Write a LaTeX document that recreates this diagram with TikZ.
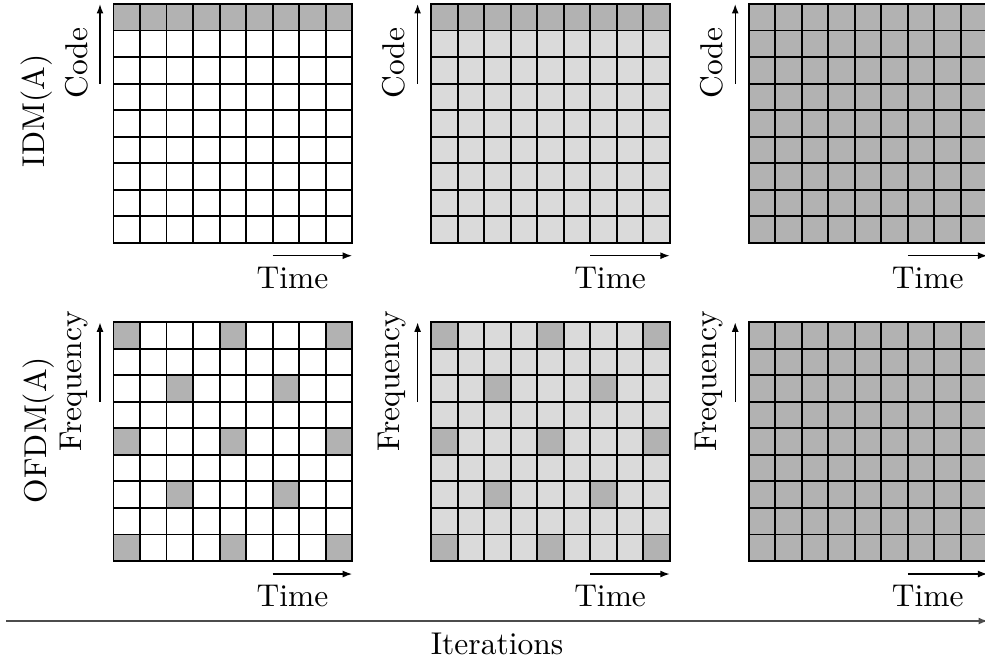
\documentclass[tikz,border=0pt]{standalone}
\usetikzlibrary{arrows.meta}
\definecolor{lightcell}{gray}{0.855}
\definecolor{darkcell}{gray}{0.70}
\begin{document}
\begin{tikzpicture}[x=0.3175pt,y=-0.3175pt,
  gridline/.style={line width=0.6pt,line cap=rect},
  axisarrow/.style={line width=0.45pt,-{Latex[length=3pt,width=2.2pt]}},
  iterarrow/.style={line width=0.55pt,black!70,-{Latex[length=3pt,width=2.2pt]}},
  axislabel/.style={rotate=90,anchor=south,inner sep=0pt},
  timelabel/.style={anchor=base,inner sep=0pt},
  rowlabel/.style={rotate=90,anchor=base,inner sep=0pt}]
\useasboundingbox (0,0) rectangle (985,664);
\clip (0,0) rectangle (985,664);
% backgrounds
\foreach \gx/\bg in {113.5/white,431.1/lightcell}{
  \fill[\bg] (\gx,4) rectangle ++(238.68,238.68);
  \fill[darkcell] (\gx,4) rectangle ++(238.68,26.52);
  \fill[\bg] (\gx,322.3) rectangle ++(238.68,238.68);
  \foreach \cx/\cy in {0/0,4/0,8/0,2/2,6/2,0/4,4/4,8/4,2/6,6/6,0/8,4/8,8/8}
    \fill[darkcell] ({\gx+\cx*26.52},{322.3+\cy*26.52}) rectangle ++(26.52,26.52);
}
\fill[darkcell] (748.7,4) rectangle ++(238.68,238.68);
\fill[darkcell] (748.7,322.3) rectangle ++(238.68,238.68);
% grid lines
\foreach \gx in {113.5,431.1,748.7}
  \foreach \gy in {4,322.3}
    \foreach \k in {0,...,9}{
      \draw[gridline] ({\gx+\k*26.52},\gy) -- ++(0,238.68);
      \draw[gridline] (\gx,{\gy+\k*26.52}) -- ++(238.68,0);
    }
% axes and labels
\foreach \gx/\n in {113.5/a,431.1/b,748.7/c}{
  \foreach \gy/\m/\lab in {4/t/Code,322.3/b/Frequency}{
    \coordinate (vs\n\m) at ({\gx-13.5},{\gy+79.6});
    \coordinate (ve\n\m) at ({\gx-13.5},\gy);
    \draw[axisarrow] (vs\n\m) -- (ve\n\m);
    \node[axislabel] (yl\n\m) at ({\gx-25},{\gy+59}) {\lab};
    \coordinate (hs\n\m) at ({\gx+159.1},{\gy+251.7});
    \coordinate (he\n\m) at ({\gx+238.68},{\gy+251.7});
    \draw[axisarrow] (hs\n\m) -- (he\n\m);
    \node[timelabel] (xl\n\m) at ({\gx+179},{\gy+284.5}) {Time};
  }
}
\node[rowlabel] (idm) at (44,110.8) {IDM(A)};
\node[rowlabel] (ofdm) at (46,430) {OFDM(A)};
\coordinate (is) at (6,621);
\coordinate (ie) at (988,621);
\draw[iterarrow] (is) -- (ie);
\node[timelabel] (iter) at (497,654) {Iterations};
\end{tikzpicture}
\end{document}
